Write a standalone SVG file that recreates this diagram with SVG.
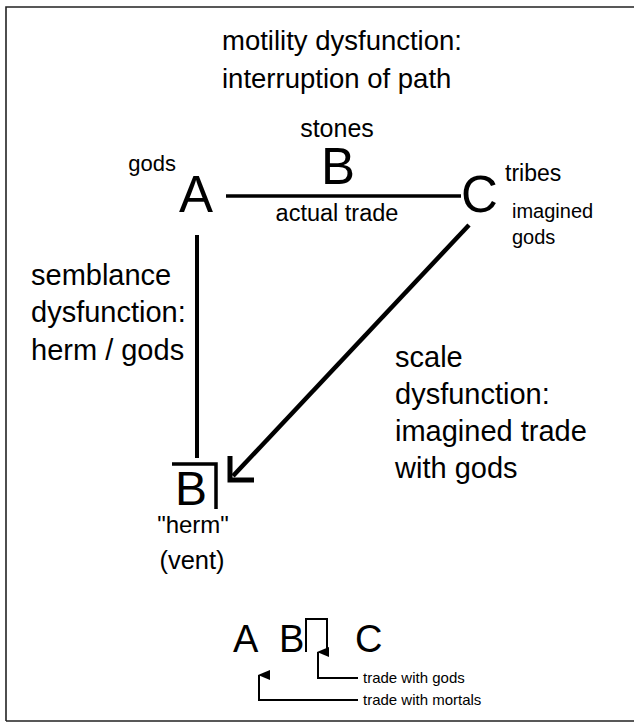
<svg xmlns="http://www.w3.org/2000/svg" width="634" height="728" viewBox="0 0 634 728">
<style>
text{font-family:"Liberation Sans",Arial,sans-serif;fill:#000}
.big{font-size:51px}
.lbl{font-size:29px}
.ln{stroke:#000;fill:none}
.lg{font-size:38px}
.note{font-size:15px}
</style>
<defs>
<marker id="up" markerWidth="10" markerHeight="12" refX="5" refY="1" orient="auto-start-reverse" markerUnits="userSpaceOnUse" viewBox="0 0 10 12">
<path d="M5,0 L10,12 L0,12 Z" fill="#000"/>
</marker>
</defs>
<rect width="634" height="728" fill="#fff"/>
<path d="M6,721 V7 H634 M6,721 H634" stroke="#222" stroke-width="1.6" fill="none"/>
<g id="title">
<text x="222" y="50" font-size="27.5">motility dysfunction:</text>
<text x="222" y="88" font-size="27.5">interruption of path</text>
</g>
<g id="nodeA">
<text x="176" y="171" text-anchor="end" font-size="22">gods</text>
<text class="big" x="179" y="212">A</text>
</g>
<g id="nodeB">
<text x="337" y="137" text-anchor="middle" font-size="25">stones</text>
<text class="big" x="338" y="184" text-anchor="middle">B</text>
<text x="337" y="221" text-anchor="middle" font-size="23.5">actual trade</text>
</g>
<g id="nodeC">
<text class="big" x="461" y="212">C</text>
<text x="505" y="181" font-size="23">tribes</text>
<text x="512" y="218" font-size="20">imagined</text>
<text x="512" y="244" font-size="20">gods</text>
</g>
<g id="semblance">
<text class="lbl" x="31" y="285">semblance</text>
<text class="lbl" x="31" y="322">dysfunction:</text>
<text class="lbl" x="31" y="360">herm / gods</text>
</g>
<g id="scale">
<text class="lbl" x="395" y="367">scale</text>
<text class="lbl" x="395" y="404">dysfunction:</text>
<text class="lbl" x="395" y="441">imagined trade</text>
<text class="lbl" x="395" y="478">with gods</text>
</g>
<g id="nodeHerm">
<path class="ln" d="M172,464 H216 V509" stroke-width="3.5"/>
<text x="175" y="505" font-size="48">B</text>
<text x="193" y="533" text-anchor="middle" font-size="24">"herm"</text>
<text x="192" y="569" text-anchor="middle" font-size="25.5">(vent)</text>
</g>
<g id="legend">
<text class="lg" x="233" y="652">A</text>
<text class="lg" x="279" y="652">B</text>
<path class="ln" d="M306,652 V619 H327 V650" stroke-width="2"/>
<text class="lg" x="355" y="652">C</text>
<text class="note" x="363" y="683">trade with gods</text>
<text class="note" x="363" y="705">trade with mortals</text>
</g>
<g id="connectors">
<line class="ln" x1="226" y1="196" x2="461" y2="196" stroke-width="3.5"/>
<line class="ln" x1="197" y1="235" x2="197" y2="458" stroke-width="4"/>
<line class="ln" x1="469" y1="225" x2="233" y2="476" stroke-width="4.5"/>
<polyline class="ln" points="230,456 230,480 254,480" stroke-width="5" stroke-linejoin="miter"/>
<path class="ln" d="M358,678 H318 V652" stroke-width="2" marker-end="url(#up)"/>
<path class="ln" d="M358,700 H259 V675" stroke-width="2" marker-end="url(#up)"/>
</g>
</svg>
